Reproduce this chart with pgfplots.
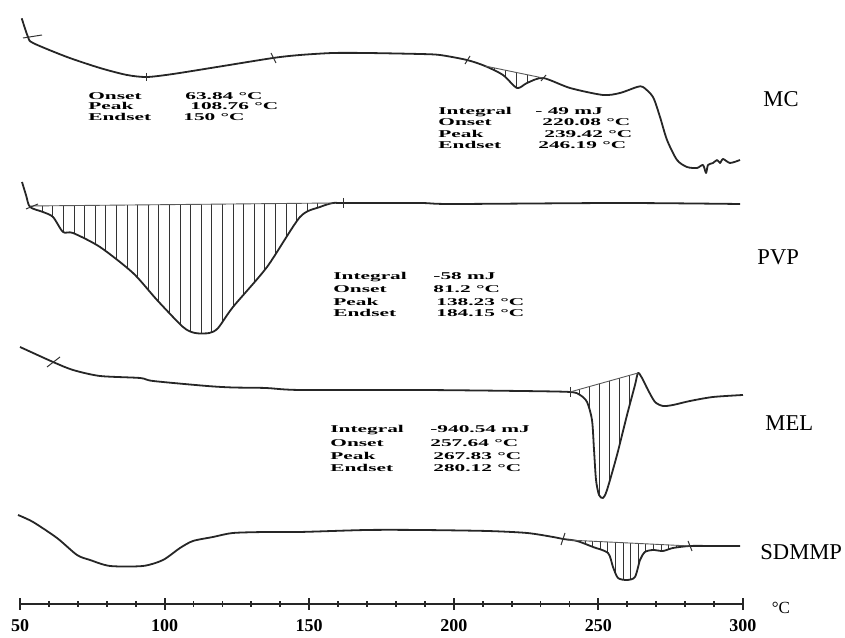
\documentclass[border=0pt]{standalone}
\usepackage{pgfplots}
\pgfplotsset{compat=1.18}
\usepgfplotslibrary{fillbetween}
\usetikzlibrary{patterns.meta}
\usepackage{fontspec}
\setmainfont{Liberation Serif}
\newcommand\annf{\fontsize{5.2}{6}\selectfont\bfseries}
\newcommand\ann[1]{\scalebox{2.05}[1]{#1}}
\tikzset{
  curve/.style={black!85, line width=0.9pt, line join=round, smooth, tension=0.45},
  mk/.style={black!80, line width=0.5pt},
  bl/.style={black!65, line width=0.45pt},
  an/.style={anchor=base west, inner sep=0pt, font=\annf},
  lab/.style={anchor=west, inner sep=0pt, font=\fontsize{11.3}{13}\selectfont},
}
\begin{document}
\begin{tikzpicture}
\begin{axis}[
  x=1.446pt, y=0.5pt,
  xmin=50, xmax=300, ymin=-604, ymax=0,
  axis x line=bottom, axis y line=none,
  axis line style={-, line width=1.2pt, black!85},
  xtick={50,100,...,300}, minor x tick num=4,
  tick align=center, major tick length=6pt, minor tick length=3pt,
  every tick/.style={black!85, line width=0.9pt},
  /pgf/number format/assume math mode=true,
  xticklabel style={font=\fontsize{9}{9}\selectfont\bfseries, yshift=-1pt},
  clip=false,
]
% ---------------- MC ----------------
\addplot[curve, name path=mc] coordinates {
(50.59,-18.3)(52.77,-37)(54.50,-43)(66.25,-57)(77.66,-68)(87.00,-75)(93.91,-77)
(102.91,-74)(118.12,-67)(137.48,-58)(146.82,-55)(158.23,-53)(169.99,-53)(188.31,-54)
(195.23,-55)(204.56,-60)(210.80,-66)(217.01,-75)(221.86,-88)(225.32,-83)(230.85,-78)
(240.19,-88)(251.60,-95)(257.47,-93)(263.35,-87)(265.42,-87)(268.88,-97)(271.31,-117)
(273.73,-140)(277.19,-160)(280.64,-167)(284.10,-168)(286.18,-165)(287.22,-173)
(287.91,-165)(289.64,-163)(291.02,-160)(292.06,-163)(293.10,-159)(295.52,-163)(298.97,-160)};
\addplot[bl, name path=mcb] coordinates {(210.80,-66)(230.85,-78)};
\addplot[pattern={Lines[angle=90,distance=5.5pt,line width=0.5pt]}, pattern color=black!80]
  fill between[of=mc and mcb, soft clip={domain=210.80:230.85}];
\addplot[mk] coordinates {(51.04,-38)(57.61,-35)};
\addplot[mk] coordinates {(93.91,-73)(93.91,-81)};
\addplot[mk] coordinates {(136.79,-53)(138.52,-63)};
\addplot[mk] coordinates {(203.88,-64)(205.61,-56)};
\addplot[mk] coordinates {(230.16,-81)(231.89,-75)};
% ---------------- PVP ----------------
\addplot[curve, name path=pvp] coordinates {
(50.69,-182)(52.07,-195)(53.46,-207)(57.95,-212)(61.41,-217)(64.87,-232)(68.33,-233)
(77.66,-247)(89.07,-273)(97.37,-300)(106.36,-327)(110.5,-333)(115.5,-333)(118.5,-328)
(123.65,-307)(135.41,-267)(146.82,-217)(153.73,-207)(158.23,-203)(161.69,-203)
(188.31,-203)(199.72,-204)(257.47,-203)(298.97,-204)};
\addplot[bl, name path=pvpb] coordinates {(53.46,-206)(158.23,-203)};
\addplot[pattern={Lines[angle=90,distance=5.3pt,line width=0.5pt]}, pattern color=black!80]
  fill between[of=pvp and pvpb, soft clip={domain=53.46:158.23}];
\addplot[mk] coordinates {(52.07,-209)(56.22,-204)};
\addplot[mk] coordinates {(161.69,-198)(161.69,-208)};
% ---------------- MEL ----------------
\addplot[curve, name path=mel] coordinates {
(50.00,-347)(61.41,-362)(68.33,-370)(77.66,-376)(91.49,-378)(96.0,-381)(114.66,-386)
(123.65,-387.5)(135.0,-388)(146.82,-390)(188.31,-390)
(222.89,-391)(240.19,-392)(243.65,-395)(246.07,-402)(247.79,-420)(248.49,-450)
(249.18,-480)(250.22,-495)(251.60,-498)(252.98,-490)(256.44,-455)(259.90,-415)
(262.66,-385)(263.70,-373)(265.08,-378)(267.16,-390)(269.58,-402)(272.34,-406)
(275.80,-405)(281.68,-401)(289.64,-397)(300.00,-395)};
\addplot[bl, name path=melb] coordinates {(240.19,-392)(263.70,-373)};
\addplot[pattern={Lines[angle=90,distance=5pt,line width=0.5pt]}, pattern color=black!80]
  fill between[of=mel and melb, soft clip={domain=240.19:263.70}];
\addplot[mk] coordinates {(59.34,-367)(63.83,-357)};
\addplot[mk] coordinates {(240.19,-387)(240.19,-397)};
% ---------------- SDMMP ----------------
\addplot[curve, name path=sd] coordinates {
(49.31,-515)(54.50,-522)(62.79,-538)(69.71,-555)(74.21,-560)(81.12,-566)(92.53,-566)
(99.45,-560)(105.33,-548)(109.82,-541)(116.74,-537)(123.65,-533)(135.41,-532)
(146.82,-532)(169.99,-530)(188.31,-530)(211.48,-531)(225.32,-533)(234.31,-537)
(237.77,-539)(242.61,-541)(248.14,-547)(253.33,-553)(255.05,-567)(256.78,-578)
(259.90,-580)(262.66,-577)(264.39,-560)(266.11,-552)(268.88,-550)(272.34,-551)
(275.80,-548)(281.68,-546)(289.64,-546)(298.97,-546)};
\addplot[bl, name path=sdb] coordinates {(239.15,-540)(281.68,-546)};
\addplot[pattern={Lines[angle=90,distance=3.8pt,line width=0.5pt]}, pattern color=black!80]
  fill between[of=sd and sdb, soft clip={domain=239.15:281.68}];
\addplot[mk] coordinates {(237.08,-545)(238.46,-533)};
\addplot[mk] coordinates {(280.99,-541)(282.37,-551)};
% ---------------- annotations ----------------
\node[an] at (axis cs:73.51,-99.5) {\ann{Onset}};
\node[an] at (axis cs:73.51,-110) {\ann{Peak}};
\node[an] at (axis cs:73.51,-120.5) {\ann{Endset}};
\node[an] at (axis cs:107.06,-99.5) {\ann{63.84 °C}};
\node[an] at (axis cs:108.79,-110) {\ann{108.76 °C}};
\node[an] at (axis cs:106.36,-120.5) {\ann{150 °C}};

\node[an] at (axis cs:194.55,-115) {\ann{Integral}};
\node[an] at (axis cs:194.55,-126) {\ann{Onset}};
\node[an] at (axis cs:194.55,-137.5) {\ann{Peak}};
\node[an] at (axis cs:194.55,-148.5) {\ann{Endset}};
\node[an] at (axis cs:228.09,-115) {\ann{- 49 mJ}};
\node[an] at (axis cs:230.51,-126) {\ann{220.08 °C}};
\node[an] at (axis cs:231.20,-137.5) {\ann{239.42 °C}};
\node[an] at (axis cs:229.12,-148.5) {\ann{246.19 °C}};

\node[an] at (axis cs:158.23,-280) {\ann{Integral}};
\node[an] at (axis cs:158.23,-293) {\ann{Onset}};
\node[an] at (axis cs:158.23,-306) {\ann{Peak}};
\node[an] at (axis cs:158.23,-317) {\ann{Endset}};
\node[an] at (axis cs:192.81,-280) {\ann{-58 mJ}};
\node[an] at (axis cs:192.81,-293) {\ann{81.2 °C}};
\node[an] at (axis cs:193.85,-306) {\ann{138.23 °C}};
\node[an] at (axis cs:193.85,-317) {\ann{184.15 °C}};

\node[an] at (axis cs:157.20,-433) {\ann{Integral}};
\node[an] at (axis cs:157.20,-446.5) {\ann{Onset}};
\node[an] at (axis cs:157.20,-460) {\ann{Peak}};
\node[an] at (axis cs:157.20,-471.5) {\ann{Endset}};
\node[an] at (axis cs:191.77,-433) {\ann{-940.54 mJ}};
\node[an] at (axis cs:191.77,-446.5) {\ann{257.64 °C}};
\node[an] at (axis cs:192.81,-460) {\ann{267.83 °C}};
\node[an] at (axis cs:192.81,-471.5) {\ann{280.12 °C}};
% ---------------- labels ----------------
\node[lab] at (axis cs:306.93,-99) {MC};
\node[lab] at (axis cs:304.86,-257) {PVP};
\node[lab] at (axis cs:307.62,-423) {MEL};
\node[lab] at (axis cs:305.89,-552) {SDMMP};
\node[inner sep=0pt, font=\fontsize{8.5}{9}\selectfont] at (axis cs:313.15,-608) {°C};
\path (axis cs:43.08,0) rectangle (axis cs:335.28,-634);
\end{axis}
\end{tikzpicture}
\end{document}
